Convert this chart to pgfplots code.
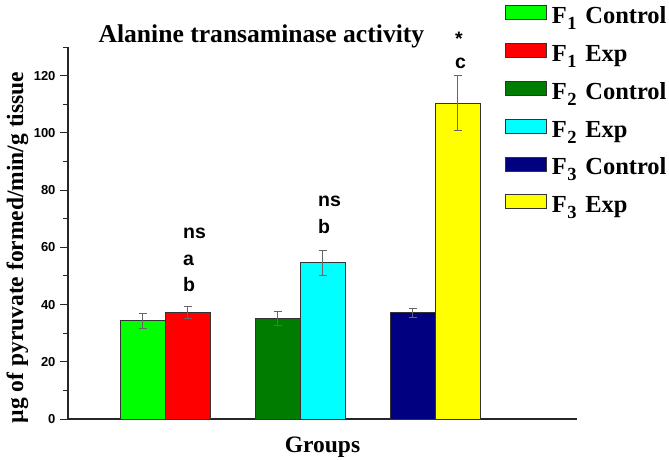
\documentclass[border=0pt]{standalone}
\usepackage{pgfplots}
\pgfplotsset{compat=1.18}
\usepackage{fontspec}
\setmainfont{Liberation Serif}
\newfontfamily\arialfont{Liberation Sans}
\definecolor{cA}{RGB}{0,255,0}
\definecolor{cB}{RGB}{255,0,0}
\definecolor{cC}{RGB}{0,125,0}
\definecolor{cD}{RGB}{0,255,255}
\definecolor{cE}{RGB}{0,0,128}
\definecolor{cF}{RGB}{255,255,0}
\newcommand{\serifbig}{\fontsize{23.5}{26}\selectfont\bfseries}
\newcommand{\legfont}{\fontsize{24.5}{26}\selectfont\bfseries}
\newcommand{\sub}[1]{\kern0.5pt\raisebox{-6pt}{\fontsize{18.5}{18}\selectfont\bfseries #1}\kern2.5pt}
\newcommand{\annfont}{\arialfont\fontsize{19.5}{21}\selectfont\bfseries}
\pgfplotsset{mybar/.style={draw=black!80, line width=0.8pt,
  error bars/y dir=both, error bars/y explicit,
  error bars/error bar style={line width=0.7pt, black!60},
  error bars/error mark options={rotate=90, mark size=4pt, line width=0.7pt, black!60}}}
\begin{document}
\begin{tikzpicture}
\begin{axis}[
  at={(0pt,0pt)}, anchor=south west,
  scale only axis, width=509pt, height=372pt,
  xmin=0.281, xmax=4.052, ymin=0, ymax=130,
  axis x line=bottom, axis y line=left,
  axis line style={-, line width=1.1pt, black!85},
  xtick=\empty,
  ytick={0,20,...,120},
  minor ytick={10,30,...,130},
  tick align=outside,
  major tick length=8pt, minor tick length=5pt,
  every tick/.style={black!85, line width=1pt},
  /pgf/number format/assume math mode=true,
  yticklabel style={font=\arialfont\fontsize{13}{13}\selectfont\bfseries, xshift=-1pt},
  ybar, bar shift=0pt, bar width=0.3333,
  clip=false,
  title={Alanine transaminase activity},
  title style={at={(axis description cs:0.38,0.997)}, anchor=base, font=\fontsize{25.6}{27}\selectfont\bfseries},
  ylabel={µg of pyruvate formed/min/g tissue},
  ylabel style={at={(axis description cs:-0.0884,0.461)}, anchor=base, rotate=0, font=\serifbig},
  xlabel={Groups},
  xlabel style={at={(axis description cs:0.5,-0.0887)}, anchor=base, font=\serifbig},
  legend style={at={(axis description cs:0.8585,1.1135)}, anchor=north west,
    draw=none, fill=none, inner sep=0pt, row sep=16.5pt,
    font=\legfont,
    nodes={inner sep=0pt, text height=15pt, text depth=3pt}},
  legend cell align=left,
  legend image code/.code={\draw[#1, line width=0.8pt] (0pt,-2pt) rectangle (41pt,12pt); \path (46pt,0pt);},
]
\addplot[fill=cA, mybar] coordinates {(0.8333,34.4) +- (0,2.6)};
\addlegendentry{F\sub{1}\ Control}
\addplot[fill=cB, mybar] coordinates {(1.1667,37.3) +- (0,2.1)};
\addlegendentry{F\sub{1}\ Exp}
\addplot[fill=cC, mybar] coordinates {(1.8333,35.1) +- (0,2.5)};
\addlegendentry{F\sub{2}\ Control}
\addplot[fill=cD, mybar] coordinates {(2.1667,54.6) +- (0,4.4)};
\addlegendentry{F\sub{2}\ Exp}
\addplot[fill=cE, mybar] coordinates {(2.8333,37.1) +- (0,1.5)};
\addlegendentry{F\sub{3}\ Control}
\addplot[fill=cF, mybar] coordinates {(3.1667,110.4) +- (0,9.6)};
\addlegendentry{F\sub{3}\ Exp}
\node[font=\annfont, anchor=base west, inner sep=0pt] at (axis cs:1.1333,63.2) {ns};
\node[font=\annfont, anchor=base west, inner sep=0pt] at (axis cs:1.1333,53.8) {a};
\node[font=\annfont, anchor=base west, inner sep=0pt] at (axis cs:1.1333,44.4) {b};
\node[font=\annfont, anchor=base west, inner sep=0pt] at (axis cs:2.1333,74.1) {ns};
\node[font=\annfont, anchor=base west, inner sep=0pt] at (axis cs:2.1333,65.0) {b};
\node[font=\annfont, anchor=base, inner sep=0pt] at (axis cs:3.178,130.5) {*};
\node[font=\annfont, anchor=base, inner sep=0pt] at (axis cs:3.189,122.5) {c};
\end{axis}
\pgfresetboundingbox
\path[use as bounding box] (-68pt,-40pt) rectangle (601pt,419pt);
\end{tikzpicture}
\end{document}
